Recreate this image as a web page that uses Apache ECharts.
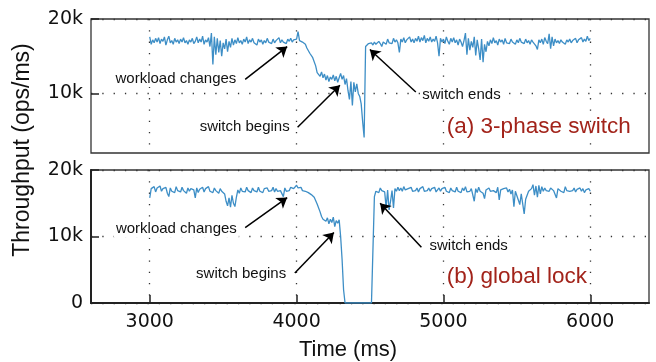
<!DOCTYPE html>
<html>
<head>
<meta charset="utf-8">
<script src="https://cdn.jsdelivr.net/npm/echarts@6/dist/echarts.min.js"></script>
<style>
  html, body { margin: 0; padding: 0; background: #fff; }
  #chart { width: 656px; height: 362px; }
</style>
</head>
<body>
<div id="chart"></div>
<script>
// sampling of both traces (ms)
const startMs = 3000;
const stepMs = 10;

// throughput in k ops/ms, one row = 100 ms
const threePhase = [
  17.6,16.6,17.2,16.8,17.4,16.9,17.5,16.7,17.3,17.0,
  17.6,16.5,17.2,17.7,16.8,17.1,16.6,17.4,16.9,17.2,
  16.7,17.3,16.9,17.5,16.8,17.1,16.6,17.2,16.9,17.4,
  16.7,17.0,17.6,16.8,17.3,16.9,17.7,16.6,17.2,16.9,
  17.5,16.3,18.1,13.9,17.6,15.2,17.4,15.5,17.1,15.0,
  16.8,16.0,17.3,15.6,17.0,16.2,17.4,16.5,17.2,16.7,
  17.5,16.8,17.1,16.6,17.3,16.9,17.6,16.7,17.2,16.9,
  17.4,16.8,17.0,16.5,17.3,16.9,17.2,16.6,17.1,16.8,
  17.4,16.9,17.0,16.7,17.3,16.8,17.1,16.9,17.5,16.8,
  17.2,16.9,17.0,16.7,17.3,17.0,17.4,16.9,17.2,17.0,
  17.3,18.3,17.1,17.2,16.9,17.0,16.6,16.1,15.9,15.4,
  15.6,14.8,14.6,13.7,12.8,13.0,12.3,12.9,12.1,12.6,
  11.8,12.4,11.6,12.2,11.9,12.5,11.7,12.3,11.5,12.1,
  12.7,11.9,12.4,11.2,12.0,10.4,9.2,11.6,8.4,11.5,
  10.2,11.3,10.0,9.6,8.6,6.2,4.1,16.3,16.5,16.7,
  16.6,16.8,16.5,16.9,16.6,16.4,17.0,16.7,16.3,16.9,
  17.1,16.6,17.3,16.8,17.0,16.7,17.4,16.9,17.2,16.8,
  15.5,17.3,16.9,17.5,16.8,17.2,17.0,17.6,16.9,17.3,
  16.8,17.4,17.0,17.7,16.9,17.5,17.1,17.8,16.8,17.4,
  17.0,17.6,16.9,17.3,17.0,17.7,16.8,15.0,17.4,16.9,
  17.3,16.7,17.6,17.0,16.6,17.4,16.9,17.5,16.8,17.2,
  16.5,17.3,16.9,16.3,17.1,18.1,15.2,17.4,15.8,17.0,
  16.2,17.6,15.1,17.2,16.0,14.5,17.3,14.2,16.6,15.6,
  17.0,16.4,17.2,16.7,17.5,16.8,17.1,16.5,17.3,16.9,
  17.2,16.6,17.4,16.8,17.0,16.7,17.3,16.9,17.1,16.6,
  17.2,16.8,17.4,16.9,17.0,16.7,17.3,16.8,17.1,16.6,
  17.2,16.9,17.0,16.4,15.9,17.2,16.8,17.3,16.6,17.5,
  17.0,16.7,18.0,16.0,17.6,16.4,17.3,16.8,17.1,16.7,
  17.2,16.9,17.0,16.6,17.2,16.9,17.3,16.8,17.1,16.9,
  17.4,16.8,17.2,17.0,17.5,16.9,17.3,17.0,17.7,17.1,
  17.4
];

const globalLock = [
  15.8,17.2,16.9,17.5,16.7,17.3,17.0,17.6,16.8,17.2,
  16.9,17.4,16.5,16.0,17.3,16.8,17.1,16.6,17.5,16.9,
  17.2,16.7,17.4,16.9,17.1,16.5,17.3,16.8,17.2,16.9,
  17.0,15.8,17.3,16.6,17.1,16.8,17.4,16.7,17.2,16.9,
  17.5,16.8,17.1,16.6,17.3,16.9,17.0,16.5,17.2,16.8,
  17.1,16.4,15.3,14.6,15.8,14.4,16.2,15.0,14.5,15.9,
  17.0,16.5,17.3,16.8,17.1,16.7,17.4,16.9,17.2,16.6,
  17.3,16.9,17.1,16.7,17.4,16.8,17.0,16.6,17.2,16.9,
  17.3,16.8,17.1,16.9,17.4,16.7,17.2,16.8,17.0,16.9,
  17.2,16.0,17.3,16.8,17.1,16.9,17.4,17.7,17.2,17.0,
  17.7,17.3,17.0,17.4,16.9,17.2,16.8,16.9,16.6,16.7,
  16.3,16.4,15.9,15.6,14.9,14.6,13.7,13.0,12.6,12.9,
  12.3,12.8,11.9,12.6,12.1,12.9,11.5,12.4,12.0,12.5,
  10.0,6.5,2.0,0,0,0,0,0,0,0,
  0,0,0,0,0,0,0,0,0,0,
  0,0,0,16.0,16.8,17.1,16.6,17.3,16.9,17.2,
  16.7,14.3,17.0,14.0,15.3,16.9,14.3,17.2,16.8,17.4,
  16.9,17.3,16.8,17.5,17.0,16.7,17.2,16.9,17.4,16.8,
  17.1,16.9,17.3,16.7,17.2,17.0,17.5,16.8,17.1,16.9,
  17.3,16.8,17.2,16.9,17.4,16.7,17.0,17.3,16.8,17.2,
  16.9,17.4,16.8,17.1,16.6,17.3,16.9,17.2,16.7,17.4,
  16.8,17.1,16.6,17.3,16.9,17.5,16.7,17.0,16.8,17.2,
  16.9,15.3,17.2,16.6,17.4,16.8,17.1,16.5,15.7,17.0,
  16.7,17.3,16.8,17.1,16.9,17.2,16.6,17.4,15.5,17.0,
  16.8,17.2,16.9,17.3,16.7,17.1,16.4,17.0,14.5,16.8,
  16.6,15.5,14.8,16.4,14.9,13.4,15.6,16.2,16.8,17.0,
  17.2,17.8,16.2,17.6,15.9,17.7,16.4,17.5,16.8,17.3,
  16.9,17.2,16.8,17.3,17.0,16.9,17.1,15.8,17.2,16.9,
  16.8,17.1,16.6,17.5,16.9,17.2,16.8,17.0,16.9,17.3,
  16.7,17.1,16.9,17.3,16.8,17.2,16.6,17.0,16.9,17.2,
  16.8
];

const timeTicks = [3000, 4000, 5000, 6000];
const topTicks = [10, 20];
const bottomTicks = [0, 10, 20];

// annotations: [label, text anchor [t, k], arrow tail, arrow head, side]
const topNotes = [
  ["workload changes", [3607, 12.0], [3650, 11.9], [3936, 16.3], "left"],
  ["switch begins", [3970, 5.5], [4007, 5.45], [4295, 11.1], "left"],
  ["switch ends", [4839, 9.86], [4812, 10.2], [4499, 15.9], "right"],
];
const bottomNotes = [
  ["workload changes", [3610, 11.1], [3650, 11.35], [3936, 15.85], "left"],
  ["switch begins", [3946, 4.35], [3988, 4.5], [4254, 10.6], "left"],
  ["switch ends", [4888, 8.6], [4850, 8.4], [4569, 15.0], "right"],
];

const toPairs = vals => vals.map((v, i) => [startMs + i * stepMs, v]);

const lineColor = "#3d8ec6";
const tickFont = { fontFamily: "DejaVu Sans", fontSize: 19, color: "#111" };
const dotted = { color: "#333", width: 1.3, type: [1.3, 10] };

function notesMarks(notes, caption, captionAt) {
  const points = notes.map(n => ({
    coord: n[1], symbol: "circle", symbolSize: 1, itemStyle: { color: "rgba(0,0,0,0)" },
    label: { show: true, formatter: n[0], position: n[4], distance: 0, fontFamily: "Liberation Sans", fontSize: 15, color: "#111", backgroundColor: "#fff", padding: [1, 2] },
  }));
  points.push({
    coord: captionAt, symbol: "circle", symbolSize: 1, itemStyle: { color: "rgba(0,0,0,0)" },
    label: { show: true, formatter: caption, position: "right", distance: 0, fontFamily: "Liberation Sans", fontSize: 22.5, color: "#a2231a" },
  });
  return {
    markPoint: { silent: true, animation: false, data: points },
    markLine: {
      silent: true, animation: false, symbol: ["none", "arrow"], symbolSize: 10,
      lineStyle: { color: "#000", width: 1.5, type: "solid" }, label: { show: false },
      data: notes.map(n => [{ coord: n[2] }, { coord: n[3] }]),
    },
  };
}

const chart = echarts.init(document.getElementById("chart"), null, { renderer: "canvas" });
chart.setOption({
  animation: false,
  grid: [
    { left: 91, right: 7, top: 19, height: 134, show: true, borderColor: "#333", borderWidth: 1.3 },
    { left: 91, right: 7, top: 170, height: 133, show: true, borderColor: "#333", borderWidth: 1.3 },
  ],
  xAxis: [
    { type: "value", gridIndex: 0, min: 2600, max: 6400, axisLine: { show: false },
      axisTick: { show: false, customValues: timeTicks }, axisLabel: { show: false, customValues: timeTicks },
      splitLine: { show: true, lineStyle: dotted } },
    { type: "value", gridIndex: 1, min: 2600, max: 6400,
      axisLine: { show: true, onZero: false, lineStyle: { color: "#222", width: 2 } },
      axisTick: { show: true, inside: true, length: 8, customValues: timeTicks, lineStyle: { color: "#222", width: 1.5 } },
      axisLabel: { customValues: timeTicks, margin: 10, formatter: v => String(v), ...tickFont },
      splitLine: { show: true, lineStyle: dotted },
      name: "Time (ms)", nameLocation: "middle", nameGap: 36,
      nameTextStyle: { fontFamily: "Liberation Sans", fontSize: 22, color: "#111", padding: [0, 44, 0, 0] } },
  ],
  yAxis: [
    { type: "value", gridIndex: 0, min: 2, max: 20, axisLine: { show: false },
      axisTick: { show: true, inside: true, length: 8, customValues: topTicks, lineStyle: { color: "#222", width: 1.5 } },
      axisLabel: { customValues: topTicks, margin: 8, formatter: v => v + "k", ...tickFont },
      splitLine: { show: true, lineStyle: dotted } },
    { type: "value", gridIndex: 1, min: 0, max: 20,
      axisLine: { show: true, onZero: false, lineStyle: { color: "#222", width: 2 } },
      axisTick: { show: true, inside: true, length: 8, customValues: bottomTicks, lineStyle: { color: "#222", width: 1.5 } },
      axisLabel: { customValues: bottomTicks, margin: 8, formatter: v => (v ? v + "k" : "0"), ...tickFont },
      splitLine: { show: true, lineStyle: dotted } },
  ],
  graphic: [
    { type: "text", x: 23, y: 150, rotation: Math.PI / 2,
      style: { text: "Throughput (ops/ms)", font: '23px "Liberation Sans"', fill: "#111", align: "center", verticalAlign: "middle" } },
  ],
  series: [
    { name: "3-phase switch", type: "line", xAxisIndex: 0, yAxisIndex: 0, data: toPairs(threePhase),
      showSymbol: false, lineStyle: { color: lineColor, width: 1.3 }, itemStyle: { color: lineColor },
      ...notesMarks(topNotes, "(a) 3-phase switch", [5020, 5.54]) },
    { name: "global lock", type: "line", xAxisIndex: 1, yAxisIndex: 1, data: toPairs(globalLock),
      showSymbol: false, lineStyle: { color: lineColor, width: 1.3 }, itemStyle: { color: lineColor },
      ...notesMarks(bottomNotes, "(b) global lock", [5020, 4.0]) },
  ],
});
</script>
</body>
</html>
